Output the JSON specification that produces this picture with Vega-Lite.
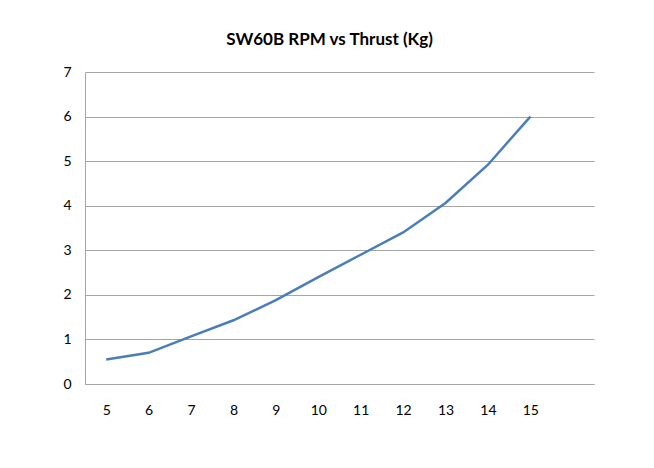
{
  "$schema": "https://vega.github.io/schema/vega-lite/v6.json",
  "autosize": "none",
  "width": 509,
  "height": 312,
  "padding": {"left": 85, "top": 72, "right": 60, "bottom": 84},
  "background": "white",
  "title": {
    "text": "SW60B RPM vs Thrust (Kg)",
    "font": "Lato",
    "fontSize": 17,
    "fontWeight": "bold",
    "color": "#000000",
    "anchor": "middle",
    "dx": -10,
    "offset": 16
  },
  "data": {
    "values": [
      {"rpm": 5, "thrust": 0.55},
      {"rpm": 6, "thrust": 0.7},
      {"rpm": 7, "thrust": 1.07},
      {"rpm": 8, "thrust": 1.43},
      {"rpm": 9, "thrust": 1.88},
      {"rpm": 10, "thrust": 2.4},
      {"rpm": 11, "thrust": 2.9},
      {"rpm": 12, "thrust": 3.4},
      {"rpm": 13, "thrust": 4.06},
      {"rpm": 14, "thrust": 4.92},
      {"rpm": 15, "thrust": 6.0}
    ]
  },
  "mark": {"type": "line", "color": "#4a7ebb", "strokeWidth": 2.5},
  "encoding": {
    "x": {
      "field": "rpm",
      "type": "quantitative",
      "scale": {"domain": [4.5, 16.5], "nice": false, "zero": false},
      "axis": {
        "title": null,
        "values": [5, 6, 7, 8, 9, 10, 11, 12, 13, 14, 15],
        "ticks": false,
        "grid": false,
        "domainColor": "#a6a6a6",
        "domainWidth": 1,
        "labelFont": "Lato",
        "labelFontSize": 14,
        "labelColor": "#000000",
        "labelPadding": 19,
        "labelFlush": false
      }
    },
    "y": {
      "field": "thrust",
      "type": "quantitative",
      "scale": {"domain": [0, 7], "nice": false},
      "axis": {
        "title": null,
        "values": [0, 1, 2, 3, 4, 5, 6, 7],
        "ticks": false,
        "grid": true,
        "gridColor": "#a6a6a6",
        "gridWidth": 1,
        "gridOpacity": 1,
        "domainColor": "#a6a6a6",
        "domainWidth": 1,
        "labelFont": "Lato",
        "labelFontSize": 14,
        "labelColor": "#000000",
        "labelPadding": 14,
        "labelFlush": false
      }
    }
  },
  "config": {"view": {"stroke": null}}
}
